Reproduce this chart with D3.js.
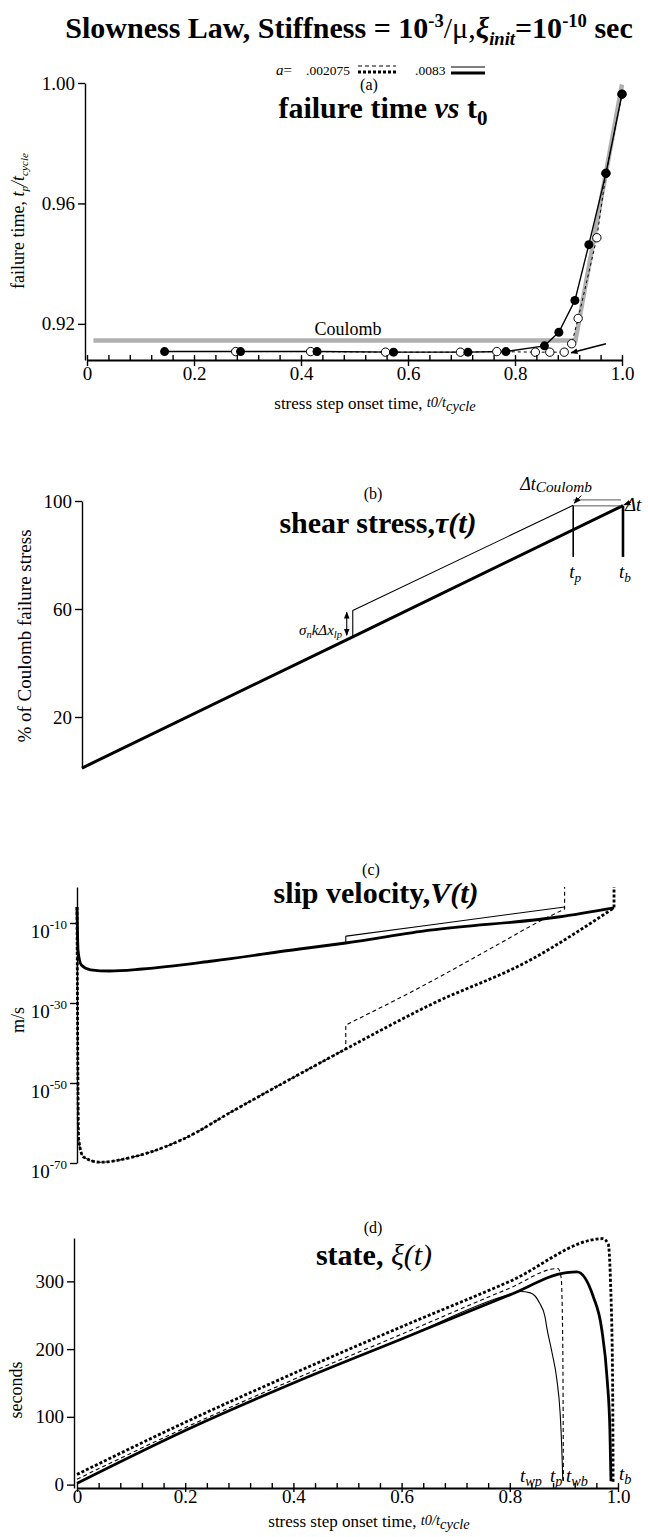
<!DOCTYPE html>
<html>
<head>
<meta charset="utf-8">
<script src="https://cdn.jsdelivr.net/npm/d3@7"></script>
<style>
  body { margin: 0; background: #fff; }
  svg { display: block; }
  text { font-family: "Liberation Serif", "Times New Roman", Times, serif; fill: #000; }
</style>
</head>
<body>
<script>
const WIDTH = 648, HEIGHT = 1537;
const SERIF = '"Liberation Serif", "Times New Roman", Times, serif';

// (a) failure time t_p/t_cycle vs stress step onset time t0/t_cycle
const filledT0 = [0.145, 0.287, 0.43, 0.573, 0.712, 0.783, 0.855, 0.882, 0.912, 0.938, 0.970, 1.0];
const filledTp = [0.9108, 0.9108, 0.9108, 0.9106, 0.9106, 0.9108, 0.9127, 0.9172, 0.9278, 0.9463, 0.9700, 0.9963];
const openT0 = [0.278, 0.418, 0.558, 0.698, 0.766, 0.838, 0.865, 0.892, 0.906, 0.918, 0.953, 0.970, 1.0];
const openTp = [0.9108, 0.9108, 0.9106, 0.9106, 0.9108, 0.9106, 0.9106, 0.9106, 0.9134, 0.9218, 0.9486, 0.9700, 0.9963];
const coulombT0 = [0.012, 0.913, 1.0];
const coulombTp = [0.9145, 0.9145, 0.9995];
const arrowFrom = [0.970, 0.9134], arrowTo = [0.905, 0.9104];
const xTicks = [0, 0.2, 0.4, 0.6, 0.8, 1.0];
const yTicksA = [0.92, 0.96, 1.00];

// (b) shear stress, % of Coulomb failure stress
const tauThick = [[0, 1.1], [0.495, 49.7], [0.989, 98.3]];
const tauThin = [[0, 1.1], [0.495, 49.7], [0.495, 59.4], [0.898, 98.4]];
const yTicksB = [20, 60, 100];
const tP = 0.898, tB = 0.989;

// (c) slip velocity, log10 of m/s
const velThickSolid = [[0, -6], [0.002, -17], [0.008, -20.5], [0.025, -21.7], [0.06, -22], [0.12, -21.5], [0.25, -19.5], [0.41, -16.5], [0.495, -15], [0.65, -11.8], [0.886, -8.5], [0.989, -6.2]];
const velThinSolid = [[0, -6], [0.002, -17], [0.008, -20.5], [0.025, -21.7], [0.06, -22], [0.12, -21.5], [0.25, -19.5], [0.41, -16.5], [0.495, -15], [0.495, -13.3], [0.65, -10.5], [0.898, -6]];
const velThickDash = [[0, -6], [0.003, -64], [0.012, -68.5], [0.042, -69.8], [0.1, -68.6], [0.196, -64], [0.287, -57], [0.4, -48.5], [0.495, -41.5], [0.65, -30.5], [0.834, -19.3], [0.989, -6.2], [0.989, -1]];
const velThinDash = [[0, -6], [0.003, -64], [0.012, -68.5], [0.042, -69.8], [0.1, -68.6], [0.196, -64], [0.287, -57], [0.4, -48.5], [0.495, -41.5], [0.495, -35.5], [0.626, -26.5], [0.78, -15], [0.853, -9.5], [0.898, -6.5], [0.898, -1]];
const yTicksC = [-10, -30, -50, -70];

// (d) state, seconds
const stateThickDash = [[0, 15], [0.2, 92], [0.4, 164], [0.6, 233], [0.8, 300], [0.972, 363], [0.982, 355], [0.986, 303], [0.99, 155], [0.991, 4]];
const stateThinDash = [[0, 8], [0.2, 84], [0.4, 155], [0.6, 222], [0.8, 290], [0.889, 319], [0.895, 305], [0.898, 200], [0.899, 4]];
const stateThickSolid = [[0, 2], [0.2, 80], [0.4, 150], [0.6, 215], [0.8, 280], [0.905, 313], [0.924, 314], [0.954, 278], [0.970, 229], [0.980, 155], [0.985, 81], [0.987, 5]];
const stateThinSolid = [[0, 2], [0.2, 80], [0.4, 150], [0.6, 215], [0.8, 281], [0.819, 285], [0.838, 283], [0.855, 268], [0.865, 248], [0.869, 229], [0.878, 195], [0.887, 155], [0.893, 106], [0.896, 56], [0.898, 6]];
const yTicksD = [0, 100, 200, 300];

const STYLES = {
  thinSolid: { w: 1.1, dash: null },
  thickSolid: { w: 2.8, dash: null },
  thinDash: { w: 1.1, dash: "4,3" },
  thickDash: { w: 2.8, dash: "3,2" }
};

const svg = d3.select("body").append("svg")
  .attr("width", WIDTH)
  .attr("height", HEIGHT);

svg.append("defs").append("marker")
  .attr("id", "head")
  .attr("viewBox", "0 0 10 10")
  .attr("refX", 9).attr("refY", 5)
  .attr("markerWidth", 7).attr("markerHeight", 7)
  .attr("markerUnits", "userSpaceOnUse")
  .attr("orient", "auto-start-reverse")
  .append("path").attr("d", "M0,1 L10,5 L0,9 Z").attr("fill", "#000");

// text with sub/superscripts
function rich(sel, parts, size) {
  let cur = 0;
  parts.forEach(p => {
    const o = typeof p === "string" ? { t: p } : p;
    let rise = o.rise || 0, sc = o.sc || 1;
    if (o.sup) { rise = -0.36; sc = o.sc || 0.62; }
    if (o.sub) { rise = o.rise || 0.22; sc = o.sc || 0.62; }
    const off = rise * size;
    const ts = sel.append("tspan").attr("dy", off - cur).text(o.t);
    cur = off;
    if (sc !== 1) ts.attr("font-size", size * sc);
    if (o.it) ts.attr("font-style", "italic");
    if (o.fw) ts.attr("font-weight", o.fw);
  });
  return sel;
}
function label(x, y, size, parts, opts = {}) {
  const t = svg.append("text")
    .attr("x", x).attr("y", y)
    .attr("font-size", size)
    .attr("text-anchor", opts.anchor || "middle")
    .attr("font-weight", opts.bold ? "bold" : null);
  if (opts.rotate) t.attr("transform", `rotate(-90,${x},${y})`);
  return rich(t, parts, size);
}
function styleAxis(g, size) {
  g.attr("font-family", SERIF).attr("font-size", size);
  g.selectAll("path, line").attr("stroke", "#000").attr("stroke-width", 1.4);
  g.selectAll("text").attr("fill", "#000");
}
// smooth runs, with straight vertical jumps where two points share a time
function seriesPath(data, x, y, curve) {
  const runs = [[data[0]]];
  for (let i = 1; i < data.length; i++) {
    if (data[i][0] === data[i - 1][0]) runs.push([data[i]]);
    else runs[runs.length - 1].push(data[i]);
  }
  const line = d3.line().x(d => x(d[0])).y(d => y(d[1])).curve(curve);
  return runs.map((r, i) => {
    if (r.length === 1) return (i ? "L" : "M") + x(r[0][0]) + "," + y(r[0][1]);
    const p = line(r);
    return i ? "L" + p.slice(1) : p;
  }).join("");
}
function drawSeries(g, data, x, y, st, curve) {
  g.append("path")
    .attr("d", seriesPath(data, x, y, curve || d3.curveLinear))
    .attr("fill", "none")
    .attr("stroke", "#000")
    .attr("stroke-width", st.w)
    .attr("stroke-dasharray", st.dash)
    .attr("stroke-linejoin", "round");
}
function bottomAxis(x, y, tick, labelDy) {
  const minor = d3.range(0, 1.0001, 0.04);
  const g1 = svg.append("g").attr("transform", `translate(0,${y})`)
    .call(d3.axisBottom(x).tickValues(minor).tickSize(-5).tickSizeOuter(0).tickFormat(""));
  styleAxis(g1, 19);
  g1.select(".domain").remove();
  const g2 = svg.append("g").attr("transform", `translate(0,${y})`)
    .call(d3.axisBottom(x).tickValues(xTicks).tickSize(tick).tickSizeOuter(0)
      .tickFormat(d => d === 0 ? "0" : d3.format(".1f")(d)));
  styleAxis(g2, 19);
  g2.selectAll(".domain").attr("stroke-width", 1.8);
  g2.selectAll(".tick text").attr("dy", labelDy);
}
const tOverT = [{ t: "t0/t", it: true, rise: -0.12, sc: 0.85 }, { t: "cycle", it: true, rise: 0.12, sc: 0.85 }];

// ---------- title + legend ----------
label(349, 38, 30, ["Slowness Law, Stiffness = 10", { t: "-3", sup: true }, { t: "/μ,", fw: "normal" },
  { t: "ξ", it: true }, { t: "init", it: true, sub: true }, "=10", { t: "-10", sup: true }, " sec"], { bold: true });

label(276, 75, 15, [{ t: "a", it: true }, "="], { anchor: "start" });
label(306, 75, 13.5, [".002075"], { anchor: "start" });
label(415, 75, 13.5, [".0083"], { anchor: "start" });
[[358, 396, "thinDash", 66], [358, 396, "thickDash", 72], [451, 485, "thinSolid", 67], [451, 485, "thickSolid", 73]]
  .forEach(([x0, x1, s, yy]) => {
    svg.append("line").attr("x1", x0).attr("x2", x1).attr("y1", yy).attr("y2", yy)
      .attr("stroke", "#000").attr("stroke-width", STYLES[s].w).attr("stroke-dasharray", STYLES[s].dash);
  });

// ---------- (a) ----------
const xA = d3.scaleLinear([0, 1], [87, 622]);
const yA = d3.scaleLinear([0.908, 1.0], [360, 83]);
const gA = svg.append("g");

gA.append("path")
  .datum(d3.zip(coulombT0, coulombTp))
  .attr("d", d3.line().x(d => xA(d[0])).y(d => yA(d[1])))
  .attr("fill", "none").attr("stroke", "#b0b0b0").attr("stroke-width", 4.5);

drawSeries(gA, d3.zip(openT0, openTp), xA, yA, { w: 1, dash: "3,3" });
drawSeries(gA, d3.zip(filledT0, filledTp), xA, yA, { w: 1.4, dash: null });

gA.selectAll("circle.open").data(d3.zip(openT0, openTp)).join("circle")
  .attr("class", "open")
  .attr("cx", d => xA(d[0])).attr("cy", d => yA(d[1])).attr("r", 4.2)
  .attr("fill", "#fff").attr("stroke", "#000").attr("stroke-width", 1);
gA.selectAll("circle.filled").data(d3.zip(filledT0, filledTp)).join("circle")
  .attr("class", "filled")
  .attr("cx", d => xA(d[0])).attr("cy", d => yA(d[1])).attr("r", 4.5)
  .attr("fill", "#000");

gA.append("line")
  .attr("x1", xA(arrowFrom[0])).attr("y1", yA(arrowFrom[1]))
  .attr("x2", xA(arrowTo[0])).attr("y2", yA(arrowTo[1]))
  .attr("stroke", "#000").attr("stroke-width", 1.6)
  .attr("marker-end", "url(#head)");

styleAxis(svg.append("g").attr("transform", `translate(${xA(0) - 2},0)`)
  .call(d3.axisLeft(yA).tickValues(yTicksA).tickSize(7).tickSizeOuter(0).tickFormat(d3.format(".2f"))), 19);
bottomAxis(xA, yA(0.908), 6, "0.6em");

label(369, 90, 16, ["(a)"]);
label(383, 118, 30, ["failure time ", { t: "vs", it: true }, "  t", { t: "0", sub: true, sc: 0.7 }], { bold: true });
label(348, 335, 18, ["Coulomb"]);
label(375, 409, 17, ["stress step onset time, ", ...tOverT]);
label(24, 221, 18, ["failure time, ", { t: "t", it: true }, { t: "p", it: true, sub: true }, { t: "/t", it: true }, { t: "cycle", it: true, sub: true }], { rotate: true });

// ---------- (b) ----------
const xB = d3.scaleLinear([0, 1], [82, 629]);
const yB = d3.scaleLinear([0, 100], [771, 501]);
const gB = svg.append("g");
drawSeries(gB, tauThin, xB, yB, STYLES.thinSolid);
drawSeries(gB, tauThick, xB, yB, { w: 3, dash: null });

const yBaxis = yB.copy().domain([1.1, 100]).range([yB(1.1), yB(100)]);
styleAxis(svg.append("g").attr("transform", `translate(${xB(0)},0)`)
  .call(d3.axisLeft(yBaxis).tickValues(yTicksB).tickSize(7).tickSizeOuter(0)), 19);

// tp / tb markers
[[tP, 1.6], [tB, 2.6]].forEach(([t, w]) => {
  gB.append("line").attr("x1", xB(t)).attr("x2", xB(t))
    .attr("y1", yB(98.3)).attr("y2", yB(79.3))
    .attr("stroke", "#000").attr("stroke-width", w);
});
[100.4, 98.2].forEach(v => {
  gB.append("line").attr("x1", xB(tP)).attr("x2", xB(tB) - 2)
    .attr("y1", yB(v)).attr("y2", yB(v))
    .attr("stroke", "#444").attr("stroke-width", 0.9);
});
gB.append("line").attr("x1", xB(tP) + 8).attr("y1", yB(102)).attr("x2", xB(tP) + 1).attr("y2", yB(99.2))
  .attr("stroke", "#000").attr("stroke-width", 1).attr("marker-end", "url(#head)");
gB.append("line").attr("x1", xB(tB) + 8).attr("y1", yB(99.5)).attr("x2", xB(tB) + 1).attr("y2", yB(98.6))
  .attr("stroke", "#000").attr("stroke-width", 1).attr("marker-end", "url(#head)");
gB.append("line").attr("x1", xB(0.484)).attr("x2", xB(0.484))
  .attr("y1", yB(58.8)).attr("y2", yB(50.3))
  .attr("stroke", "#000").attr("stroke-width", 1.1)
  .attr("marker-start", "url(#head)").attr("marker-end", "url(#head)");

label(373, 499, 16, ["(b)"]);
label(378, 533, 30, ["shear stress,", { t: "τ(t)", it: true }], { bold: true });
label(556, 490, 18, [{ t: "Δt", it: true }, { t: "Coulomb", it: true, sub: true, sc: 0.85, rise: 0.12 }]);
label(xB(tB) + 2, 511, 19, [{ t: "Δt", it: true }], { anchor: "start" });
label(xB(tP) + 2, 578, 19, [{ t: "t", it: true }, { t: "p", it: true, sub: true, sc: 0.7 }]);
label(xB(tB) + 2, 578, 19, [{ t: "t", it: true }, { t: "b", it: true, sub: true, sc: 0.7 }]);
label(342, 635, 15, [{ t: "σ", it: true }, { t: "n", it: true, sub: true, sc: 0.7 }, { t: "kΔx", it: true }, { t: "lp", it: true, sub: true, sc: 0.7 }], { anchor: "end" });
label(31, 636, 19, ["% of Coulomb failure stress"], { rotate: true });

// ---------- (c) ----------
const xC = d3.scaleLinear([0, 1], [77, 620]);
const yC = d3.scaleLinear([-70, -1], [1163, 887]);
const gC = svg.append("g");
drawSeries(gC, velThickDash, xC, yC, STYLES.thickDash, d3.curveMonotoneX);
drawSeries(gC, velThinDash, xC, yC, STYLES.thinDash, d3.curveMonotoneX);
drawSeries(gC, velThinSolid, xC, yC, STYLES.thinSolid, d3.curveMonotoneX);
drawSeries(gC, velThickSolid, xC, yC, STYLES.thickSolid, d3.curveMonotoneX);

const axC = svg.append("g").attr("transform", `translate(${xC(0)},0)`)
  .call(d3.axisLeft(yC).tickValues(yTicksC).tickSize(7).tickSizeOuter(0));
styleAxis(axC, 19);
axC.selectAll(".tick text").each(function(d) {
  const t = d3.select(this).text("").attr("dy", "0.75em");
  t.append("tspan").text("10");
  t.append("tspan").attr("dy", -9).attr("font-size", 13).text(String(d));
});

label(371, 875, 16, ["(c)"]);
label(376, 903, 30, ["slip velocity,", { t: "V(t)", it: true }], { bold: true });
label(24, 1020, 18, ["m/s"], { rotate: true });

// ---------- (d) ----------
const xD = d3.scaleLinear([0, 1], [77, 618]);
const yD = d3.scaleLinear([-5, 364], [1488, 1238]);
const gD = svg.append("g");
drawSeries(gD, stateThickDash, xD, yD, STYLES.thickDash, d3.curveMonotoneX);
drawSeries(gD, stateThinDash, xD, yD, STYLES.thinDash, d3.curveMonotoneX);
drawSeries(gD, stateThinSolid, xD, yD, STYLES.thinSolid, d3.curveMonotoneX);
drawSeries(gD, stateThickSolid, xD, yD, STYLES.thickSolid, d3.curveMonotoneX);

styleAxis(svg.append("g").attr("transform", `translate(${xD(0) - 3},0)`)
  .call(d3.axisLeft(yD).tickValues(yTicksD).tickSize(7).tickSizeOuter(0)), 19);
bottomAxis(xD, yD(-5), 4, "0.42em");

label(373, 1233, 16, ["(d)"]);
label(374, 1265, 30, ["state, ", { t: "ξ(t)", it: true, fw: "normal" }], { bold: true });
label(520, 1482, 19, [{ t: "t", it: true }, { t: "wp", it: true, sub: true, sc: 0.75 }], { anchor: "start" });
label(550, 1482, 19, [{ t: "t", it: true }, { t: "p", it: true, sub: true, sc: 0.75 }], { anchor: "start" });
label(566, 1482, 19, [{ t: "t", it: true }, { t: "wb", it: true, sub: true, sc: 0.75 }], { anchor: "start" });
label(619, 1480, 19, [{ t: "t", it: true }, { t: "b", it: true, sub: true, sc: 0.75 }], { anchor: "start" });
label(369, 1527, 17, ["stress step onset time, ", ...tOverT]);
label(22, 1390, 18, ["seconds"], { rotate: true });
</script>
</body>
</html>
